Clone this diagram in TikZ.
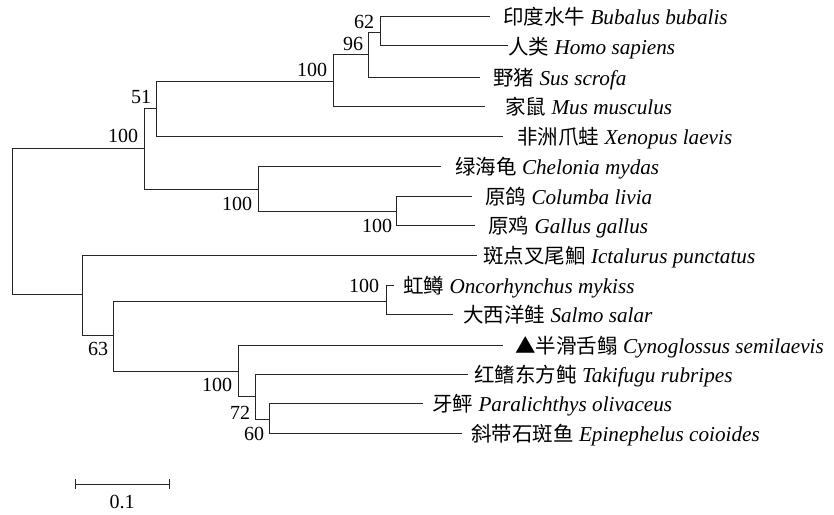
\documentclass[tikz,border=0pt]{standalone}
\usepackage{fontspec}
\setmainfont{Liberation Serif}
\newfontfamily\cjk{Noto Sans CJK SC}
\newcommand{\taxname}[2]{{\cjk #1}\fontsize{21.2}{24}\selectfont{} \textit{#2}}
\begin{document}
\begin{tikzpicture}[x=1pt,y=-1pt,
  br/.style={draw=black!85, line width=0.9pt},
  taxon/.style={anchor=base west, inner sep=0pt, font=\fontsize{20.5}{24}\selectfont},
  bs/.style={inner sep=0pt, font=\fontsize{20}{24}\selectfont}]
\useasboundingbox (0,0) rectangle (834,514);
% internal nodes
\coordinate (R) at (12.5,221);
\coordinate (A) at (144,148);
\coordinate (B) at (156,108);
\coordinate (D) at (333,81);
\coordinate (E) at (368,54);
\coordinate (F) at (380,32);
\coordinate (C) at (258,189);
\coordinate (G) at (396,211);
\coordinate (H) at (82,294);
\coordinate (I) at (113,335);
\coordinate (J) at (386,301);
\coordinate (K) at (238,371);
\coordinate (L) at (255,396);
\coordinate (M) at (269,419);
% tips
\coordinate (t1) at (490,16);
\coordinate (t2) at (508,45.5);
\coordinate (t3) at (480,77);
\coordinate (t4) at (485,106);
\coordinate (t5) at (503,136);
\coordinate (t6) at (441,166);
\coordinate (t7) at (472,196);
\coordinate (t8) at (475,225);
\coordinate (t9) at (477,255);
\coordinate (t10) at (394,285);
\coordinate (t11) at (453,314);
\coordinate (t12) at (503,345);
\coordinate (t13) at (468,374);
\coordinate (t14) at (423,403);
\coordinate (t15) at (462,433);
% branches
\draw[br] (R) |- (A);
\draw[br] (R) |- (H);
\draw[br] (A) |- (B);
\draw[br] (A) |- (C);
\draw[br] (B) |- (D);
\draw[br] (B) |- (t5);
\draw[br] (D) |- (E);
\draw[br] (D) |- (t4);
\draw[br] (E) |- (F);
\draw[br] (E) |- (t3);
\draw[br] (F) |- (t1);
\draw[br] (F) |- (t2);
\draw[br] (C) |- (t6);
\draw[br] (C) |- (G);
\draw[br] (G) |- (t7);
\draw[br] (G) |- (t8);
\draw[br] (H) |- (t9);
\draw[br] (H) |- (I);
\draw[br] (I) |- (J);
\draw[br] (I) |- (K);
\draw[br] (J) |- (t10);
\draw[br] (J) |- (t11);
\draw[br] (K) |- (t12);
\draw[br] (K) |- (L);
\draw[br] (L) |- (t13);
\draw[br] (L) |- (M);
\draw[br] (M) |- (t14);
\draw[br] (M) |- (t15);
% taxon labels
\node[taxon] (l1) at (503,24.5) {\taxname{印度水牛}{Bubalus bubalis}};
\node[taxon] (l2) at (508,54) {\taxname{人类}{Homo sapiens}};
\node[taxon] (l3) at (493,85) {\taxname{野猪}{Sus scrofa}};
\node[taxon] (l4) at (505,114.5) {\taxname{家鼠}{Mus musculus}};
\node[taxon] (l5) at (517,144.5) {\taxname{非洲爪蛙}{Xenopus laevis}};
\node[taxon] (l6) at (455,174.5) {\taxname{绿海龟}{Chelonia mydas}};
\node[taxon] (l7) at (485,204.5) {\taxname{原鸽}{Columba livia}};
\node[taxon] (l8) at (488,233.5) {\taxname{原鸡}{Gallus gallus}};
\node[taxon] (l9) at (483,263) {\taxname{斑点叉尾鮰}{Ictalurus punctatus}};
\node[taxon] (l10) at (403,293) {\taxname{虹鳟}{Oncorhynchus mykiss}};
\node[taxon] (l11) at (463,322.5) {\taxname{大西洋鲑}{Salmo salar}};
\node[taxon] (l12) at (515,353.5) {\taxname{▲半滑舌鳎}{Cynoglossus semilaevis}};
\node[taxon] (l13) at (474,382.5) {\taxname{红鳍东方鲀}{Takifugu rubripes}};
\node[taxon] (l14) at (432,411.5) {\taxname{牙鲆}{Paralichthys olivaceus}};
\node[taxon] (l15) at (471,441.5) {\taxname{斜带石斑鱼}{Epinephelus coioides}};
% bootstrap values
\node[bs] (n1) at (364,21.5) {62};
\node[bs] (n2) at (353,43.5) {96};
\node[bs] (n3) at (312,69.5) {100};
\node[bs] (n4) at (141,97) {51};
\node[bs] (n5) at (123,135.5) {100};
\node[bs] (n6) at (237,204) {100};
\node[bs] (n7) at (377,226) {100};
\node[bs] (n8) at (364,286) {100};
\node[bs] (n9) at (98,349) {63};
\node[bs] (n10) at (217,385) {100};
\node[bs] (n11) at (240,413) {72};
\node[bs] (n12) at (254,434) {60};
% scale bar
\coordinate (s1) at (75,484);
\coordinate (s2) at (169,484);
\draw[br] (s1) -- (s2);
\draw[br] ([yshift=-5pt]s1) -- ([yshift=5pt]s1);
\draw[br] ([yshift=-5pt]s2) -- ([yshift=5pt]s2);
\node[bs] (sb) at (122,501.5) {0.1};
\end{tikzpicture}
\end{document}
